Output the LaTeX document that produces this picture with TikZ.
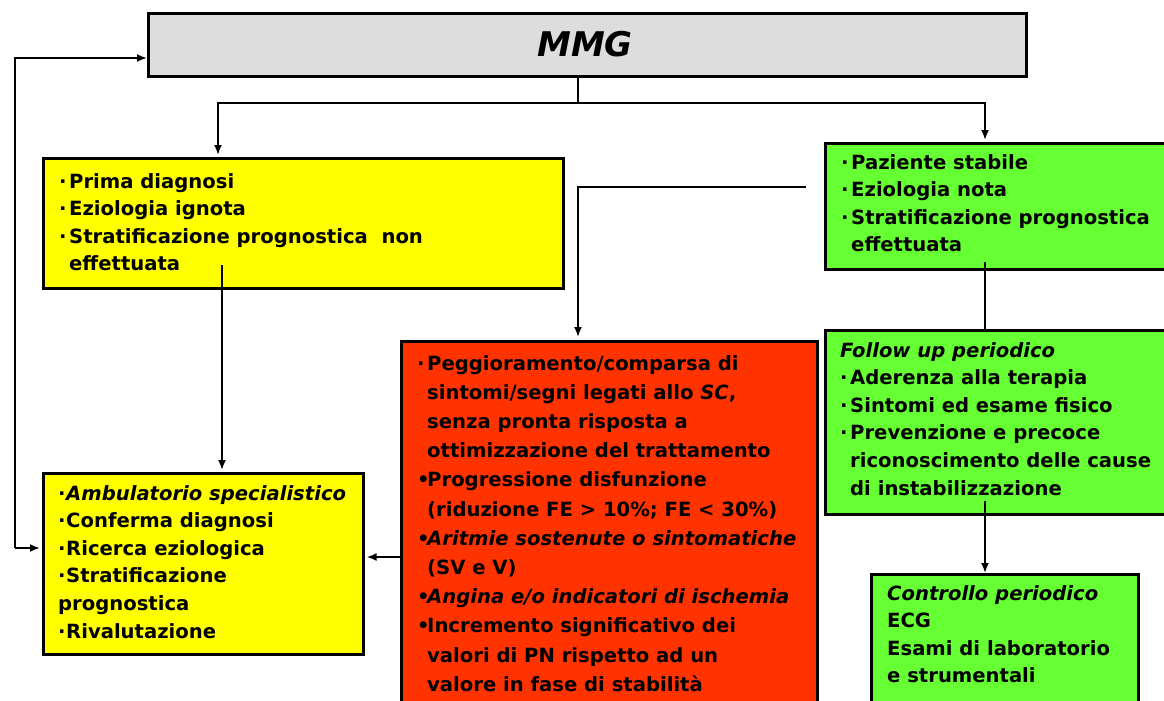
\documentclass[tikz,border=0pt]{standalone}
\usepackage{fontspec}
\setmainfont{DejaVu Sans}
\usetikzlibrary{arrows.meta,calc}
\definecolor{boxgray}{HTML}{DDDDDD}
\definecolor{boxyellow}{HTML}{FFFF00}
\definecolor{boxgreen}{HTML}{66FF33}
\definecolor{boxred}{HTML}{FF3300}
% small raised dot and large bullet used at the start of list lines
\newcommand{\sdot}{\makebox[10pt][l]{·}}
\newcommand{\bdot}{\makebox[10pt][l]{•}}
\newcommand{\ind}{\hspace*{10pt}}
\tikzset{
  panel/.style={draw=black, line width=2.6pt, anchor=north west, inner sep=0pt},
  txt/.style={anchor=north west, align=left, inner sep=0pt,
    font=\fontsize{19.6}{27.6}\selectfont\bfseries},
  redtxt/.style={txt, font=\fontsize{19.6}{29.2}\selectfont\bfseries},
  link/.style={line width=1.8pt},
  arr/.style={link, -{Latex[length=10pt,width=8pt]}},
}
\begin{document}
\begin{tikzpicture}[x=1pt,y=-1pt]
\useasboundingbox (0,0) rectangle (1164,701);

% boxes
\node[panel, fill=boxgray, minimum width=878pt, minimum height=63pt] (mmg) at (147,12) {};
\node[font=\fontsize{34}{34}\selectfont\bfseries\itshape] (mmgt) at (585,44) {MMG};

\node[panel, fill=boxyellow, minimum width=520pt, minimum height=130pt] (y1) at (42,157) {};
\node[txt] (y1t) at (59,173) {\sdot Prima diagnosi\\ \sdot Eziologia ignota\\ \sdot Stratificazione prognostica\ \ non\\ \ind effettuata};

\node[panel, fill=boxgreen, minimum width=360pt, minimum height=126pt] (g1) at (824,142) {};
\node[txt] (g1t) at (841,154) {\sdot Paziente stabile\\ \sdot Eziologia nota\\ \sdot Stratificazione prognostica\\ \ind effettuata};

\node[panel, fill=boxred, minimum width=416pt, minimum height=380pt] (r) at (400,340) {};
\node[redtxt] (rt) at (417,355) {\sdot Peggioramento/comparsa di\\ \ind sintomi/segni legati allo \textit{SC},\\ \ind senza pronta risposta a\\ \ind ottimizzazione del trattamento\\ \bdot Progressione disfunzione\\ \ind (riduzione FE > 10\%; FE < 30\%)\\ \bdot\textit{Aritmie sostenute o sintomatiche}\\ \ind (SV e V)\\ \bdot\textit{Angina e/o indicatori di ischemia}\\ \bdot Incremento significativo dei\\ \ind valori di PN rispetto ad un\\ \ind valore in fase di stabilità};

\node[panel, fill=boxgreen, minimum width=360pt, minimum height=184pt] (g2) at (824,329) {};
\node[txt] (g2t) at (840,342) {\textit{Follow up periodico}\\ \sdot Aderenza alla terapia\\ \sdot Sintomi ed esame fisico\\ \sdot Prevenzione e precoce\\ \ind riconoscimento delle cause\\ \ind di instabilizzazione};

\node[panel, fill=boxyellow, minimum width=320pt, minimum height=181pt] (y2) at (42,472) {};
\node[txt] (y2t) at (58,485) {\makebox[8pt][l]{·}\textit{Ambulatorio specialistico}\\ \makebox[8pt][l]{·}Conferma diagnosi\\ \makebox[8pt][l]{·}Ricerca eziologica\\ \makebox[8pt][l]{·}Stratificazione\\ prognostica\\ \makebox[8pt][l]{·}Rivalutazione};

\node[panel, fill=boxgreen, minimum width=267pt, minimum height=140pt] (g3) at (870,573) {};
\node[txt] (g3t) at (887,585) {\textit{Controllo periodico}\\ ECG\\ Esami di laboratorio\\ e strumentali};

% connectors
\coordinate (split) at (578,103);
\draw[link] (mmg.south -| split) -- (split);
\draw[arr] (split) -| ($(y1.north west)+(176,-2)$);
\draw[arr] (split) -| ($(g1.north west)+(161,-2)$);

\coordinate (gstart) at (806,187);
\draw[arr] (gstart) -| ($(r.north west)+(178,-3)$);

\draw[arr] ($(y1.north west)+(180,108)$) -- ($(y2.north west)+(180,-2)$);
\draw[link] ($(g1.north west)+(161,120)$) -- ($(g2.north west)+(161,0)$);
\draw[arr] ($(g2.north west)+(161,172)$) -- ($(g3.north west)+(115,0)$);

\draw[arr] ($(r.north west)+(0,217)$) -- ($(y2.north east)+(2,85)$);

\coordinate (lbot) at (15,548);
\coordinate (ltop) at (15,58);
\coordinate (ytarget) at ($(y2.north west)+(-2,76)$);
\draw[arr] (lbot) -- (ytarget);
\draw[arr] (lbot) -- (ltop) -- (mmg.west |- ltop);
\end{tikzpicture}
\end{document}
